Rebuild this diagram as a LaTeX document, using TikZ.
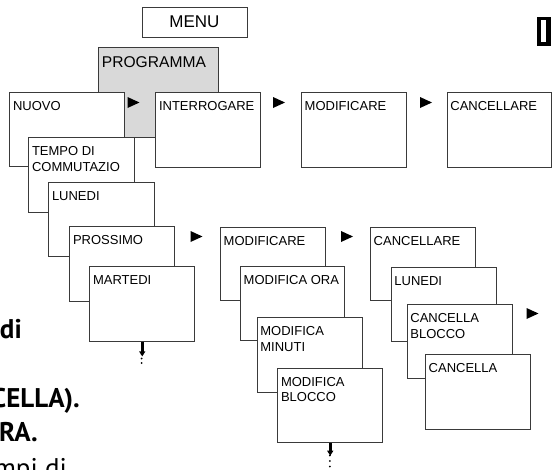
\documentclass[tikz,border=0pt]{standalone}
\usepackage{fontspec}
\setmainfont{Liberation Sans}
\newfontfamily\bodyfont{PT Sans}
\usetikzlibrary{arrows.meta}
\definecolor{edge}{HTML}{3A3A3A}
\definecolor{progfill}{HTML}{D9D9D9}
\tikzset{
  box/.style={draw=edge, line width=0.9pt, fill=white, anchor=north west, inner sep=0pt},
  lbl/.style={anchor=north west, inner sep=0pt, align=left, font=\fontsize{13}{15.6}\selectfont},
  play/.pic={\fill (-6,-5.5) -- (6,0) -- (-6,5.5) -- cycle;},
  downarr/.style={line width=3.5pt, -{Triangle[width=6pt,length=5pt]}},
  dotmark/.style={circle, fill=black, inner sep=0pt, minimum size=2pt},
  bodybold/.style={anchor=base east, inner sep=0pt, font=\bodyfont\bfseries\fontsize{27}{30}\selectfont},
  bodyreg/.style={anchor=base east, inner sep=0pt, font=\bodyfont\fontsize{27}{30}\selectfont}
}
\newcommand{\boxlabel}[2]{\node[lbl] at ([xshift=3.5pt,yshift=-9.4pt]#1.north west) {#2};}
\begin{document}
\begin{tikzpicture}[x=1pt,y=-1pt]
\useasboundingbox (0,0) rectangle (552,469);
\clip (0,0) rectangle (552,469);

% page text fragments
\node[bodybold] (t1) at (22,338) {di};
\node[bodybold] (t2) at (80,407) {CELLA).};
\node[bodybold] (t3) at (38,441.5) {ORA.};
\node[bodyreg] (t4) at (67,477) {ompi di};

% language tab
\node[fill=black, minimum width=14pt, minimum height=29pt, inner sep=0pt, anchor=north west] (lang) at (536.5,17) {};
\fill[white] (541,19.5) rectangle (545.5,42);

% menu
\node[draw=edge, line width=0.9pt, minimum width=105pt, minimum height=30pt, inner sep=0pt, font=\fontsize{17}{20}\selectfont] (menu) at (194.5,22) {MENU};

% programma
\node[box, fill=progfill, minimum width=120.5pt, minimum height=90pt] (prog) at (97.7,46.7) {};
\node[anchor=north west, inner sep=0pt, font=\fontsize{15.6}{18}\selectfont] at ([xshift=4pt,yshift=-9.3pt]prog.north west) {PROGRAMMA};

% first row
\node[box, minimum width=114.7pt, minimum height=74pt] (nuovo) at (9.3,92.3) {};
\boxlabel{nuovo}{NUOVO}
\node[box, minimum width=105pt, minimum height=74.5pt] (interr) at (155.3,92.3) {};
\boxlabel{interr}{INTERROGARE}
\node[box, minimum width=105pt, minimum height=74.5pt] (modif) at (301,92.3) {};
\boxlabel{modif}{MODIFICARE}
\node[box, minimum width=104.5pt, minimum height=74.5pt] (cancel) at (446.7,92.3) {};
\boxlabel{cancel}{CANCELLARE}

\pic at (133.5,102.5) {play};
\pic at (279,102.5) {play};
\pic at (426,102.5) {play};

% new stack
\node[box, minimum width=105.7pt, minimum height=75pt] (tempo) at (28.3,137.3) {};
\boxlabel{tempo}{TEMPO DI\\COMMUTAZIO}
\node[box, minimum width=105.4pt, minimum height=74.3pt] (lun1) at (48.3,181.7) {};
\boxlabel{lun1}{LUNEDI}
\node[box, minimum width=105pt, minimum height=74.7pt] (pross) at (69.3,226) {};
\boxlabel{pross}{PROSSIMO}
\node[box, minimum width=105pt, minimum height=75pt] (mart) at (89.3,266) {};
\boxlabel{mart}{MARTEDI}
\draw[downarr] (mart.south) -- ++(0,14.5);
\node[dotmark] at (141.7,354) {};
\node[dotmark] at (141.7,358.5) {};
\node[dotmark] at (141.7,363) {};

\pic at (196.5,236.5) {play};

% modify stack
\node[box, minimum width=105pt, minimum height=73.5pt] (modif2) at (220,226.7) {};
\boxlabel{modif2}{MODIFICARE}
\node[box, minimum width=104.3pt, minimum height=74pt] (modora) at (240,266) {};
\boxlabel{modora}{MODIFICA ORA}
\node[box, minimum width=105.6pt, minimum height=74.4pt] (modmin) at (256.7,317.3) {};
\boxlabel{modmin}{MODIFICA\\MINUTI}
\node[box, minimum width=105pt, minimum height=74.6pt] (modblk) at (277.3,367.7) {};
\boxlabel{modblk}{MODIFICA\\BLOCCO}
\draw[downarr] (modblk.south) -- ++(0,12.5);
\node[dotmark] at (329.8,455.5) {};
\node[dotmark] at (329.8,461) {};
\node[dotmark] at (329.8,466.5) {};

\pic at (347,236.5) {play};

% cancel stack
\node[box, minimum width=105pt, minimum height=73.5pt] (cancel2) at (370,226.7) {};
\boxlabel{cancel2}{CANCELLARE}
\node[box, minimum width=105pt, minimum height=74.3pt] (lun2) at (390.7,266.7) {};
\boxlabel{lun2}{LUNEDI}
\node[box, minimum width=105.6pt, minimum height=74.3pt] (cblk) at (406.7,304) {};
\boxlabel{cblk}{CANCELLA\\BLOCCO}
\node[box, minimum width=105pt, minimum height=74.7pt] (canc) at (425,354.3) {};
\boxlabel{canc}{CANCELLA}

\pic at (532.5,313.5) {play};
\end{tikzpicture}
\end{document}
